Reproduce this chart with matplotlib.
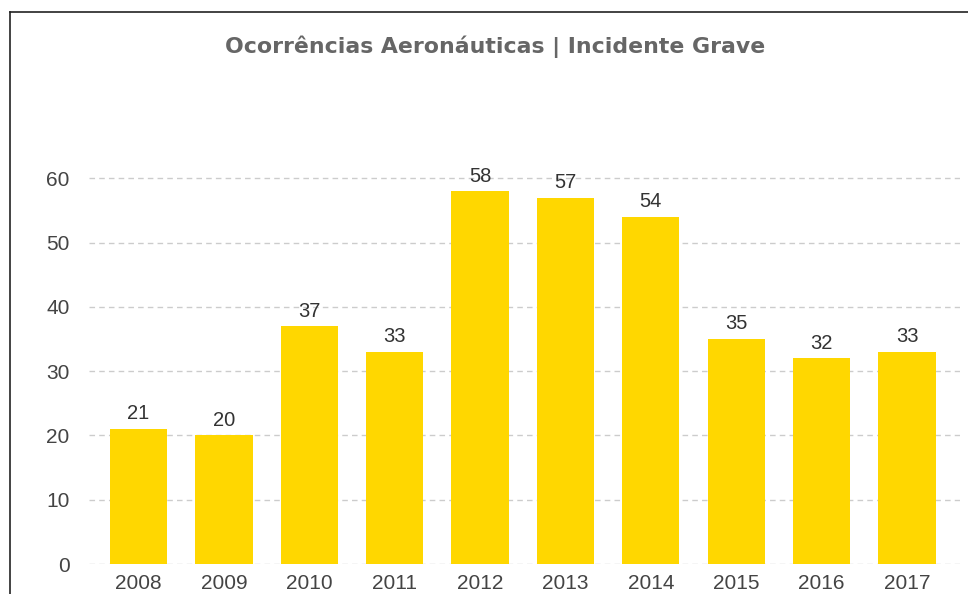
import matplotlib
matplotlib.use("Agg")
import matplotlib.pyplot as plt
from matplotlib.lines import Line2D

plt.rcParams['font.family'] = ['Liberation Sans', 'DejaVu Sans']

years = ['2008', '2009', '2010', '2011', '2012', '2013', '2014', '2015', '2016', '2017']
occurrences = [21, 20, 37, 33, 58, 57, 54, 35, 32, 33]
y_ticks = [0, 10, 20, 30, 40, 50, 60]
title = 'Ocorrências Aeronáuticas | Incidente Grave'

W, H = 968, 594
fig = plt.figure(figsize=(W / 100, H / 100), dpi=100)
ax = fig.add_axes([89 / W, 30 / H, (960 - 89) / W, 450 / H])

x = range(len(years))
bars = ax.bar(x, occurrences, width=0.67, color='#FFD700', zorder=2)

for rect, v in zip(bars, occurrences):
    ax.annotate(str(v), (rect.get_x() + rect.get_width() / 2, v),
                xytext=(0, 4), textcoords='offset points',
                ha='center', va='bottom', fontsize=14.5, color='#333333')

ax.set_xlim(-0.58, len(years) - 1 + 0.62)
ax.set_ylim(0, 70)
ax.set_xticks(list(x))
ax.set_xticklabels(years)
ax.set_yticks(y_ticks)
ax.tick_params(axis='both', length=0, labelsize=15, colors='#444444')
ax.tick_params(axis='x', pad=7)
ax.tick_params(axis='y', pad=14)

ax.yaxis.grid(True, color='#cccccc', linestyle=(0, (4, 3)), linewidth=1, zorder=0)
ax.set_axisbelow(True)
for s in ax.spines.values():
    s.set_visible(False)

fig.text(495 / W, 1 - 47 / H, title, ha='center', va='center', family='DejaVu Sans',
         fontsize=15.8, fontweight='bold', color='#666666')

# frame lines on the top and left edges
fig.add_artist(Line2D([10 / W, 1], [1 - 12 / H, 1 - 12 / H], color='#222222', linewidth=1.2))
fig.add_artist(Line2D([10 / W, 10 / W], [0, 1 - 12 / H], color='#222222', linewidth=1.2))

fig.savefig('out.png', dpi=100)
